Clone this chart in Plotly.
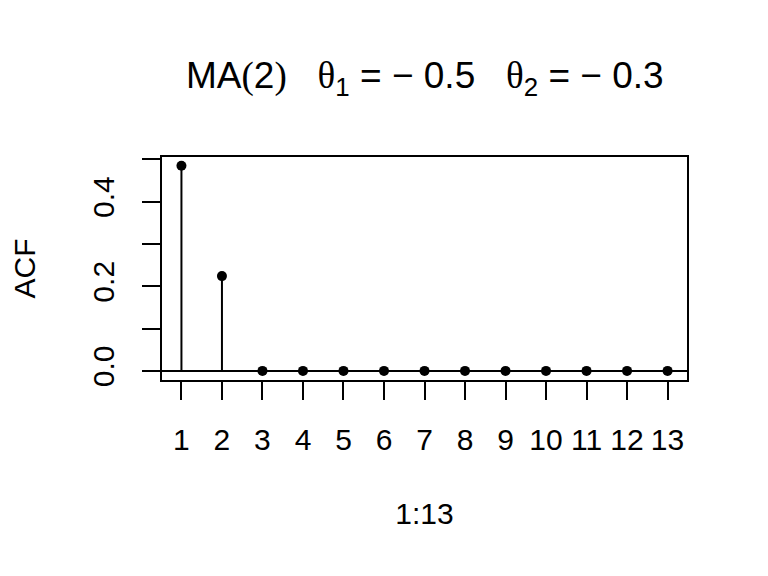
import plotly.graph_objects as go

lags = list(range(1, 14))
acf_values = [0.485, 0.224, 0, 0, 0, 0, 0, 0, 0, 0, 0, 0, 0]
y_ticks = [0, 0.2, 0.4]
y_ticktext = ["0.0", "0.2", "0.4"]
y_minor_step = 0.1
x_ticktext = [str(v) for v in lags]

stem_x, stem_y = [], []
for x, v in zip(lags, acf_values):
    stem_x += [x, x, None]
    stem_y += [0, v, None]

FONT = "Liberation Sans, Arial, sans-serif"
SERIF = "Liberation Serif, Times New Roman, serif"

fig = go.Figure()
fig.add_trace(go.Scatter(x=stem_x, y=stem_y, mode="lines",
                         line=dict(color="black", width=2), showlegend=False,
                         hoverinfo="skip"))
fig.add_trace(go.Scatter(x=lags, y=acf_values, mode="markers",
                         marker=dict(color="black", size=10), showlegend=False))
fig.add_hline(y=0, line=dict(color="black", width=2))

fig.update_layout(
    width=768, height=576,
    margin=dict(l=148, r=89, t=149, b=204),
    paper_bgcolor="white", plot_bgcolor="white",
    font=dict(family=FONT, size=30, color="black"),
    xaxis=dict(range=[0.52, 13.48], tickvals=lags, ticktext=x_ticktext,
               ticks="outside", ticklen=18, tickwidth=2, tickcolor="black",
               showline=True, linewidth=2, linecolor="black", mirror=True,
               showgrid=False, zeroline=False, ticklabelstandoff=14,
               title=dict(text="1:13", standoff=48, font=dict(size=30))),
    yaxis=dict(range=[-0.0215, 0.5055], tickvals=y_ticks, ticktext=y_ticktext,
               tickangle=-90,
               ticks="outside", ticklen=18, tickwidth=2, tickcolor="black",
               minor=dict(tick0=0, dtick=y_minor_step, ticks="outside",
                          ticklen=18, tickwidth=2, tickcolor="black",
                          showgrid=False),
               showline=True, linewidth=2, linecolor="black", mirror=True,
               showgrid=False, zeroline=False, ticklabelstandoff=16,
               title=dict(text="ACF", standoff=46, font=dict(size=30))),
)

title = ("MA<span style=\"font-family:%s\">(</span>2<span style=\"font-family:%s\">)</span>"
         "   <span style=\"font-family:%s\">θ</span><sub>1</sub> = − 0.5"
         "   <span style=\"font-family:%s\">θ</span><sub>2</sub> = − 0.3") % (SERIF, SERIF, SERIF, SERIF)
fig.add_annotation(text=title, xref="paper", yref="paper", x=0.5, y=1,
                   yshift=79, xanchor="center", yanchor="middle",
                   showarrow=False, font=dict(size=37, family=FONT))

fig.write_html("out.html")
